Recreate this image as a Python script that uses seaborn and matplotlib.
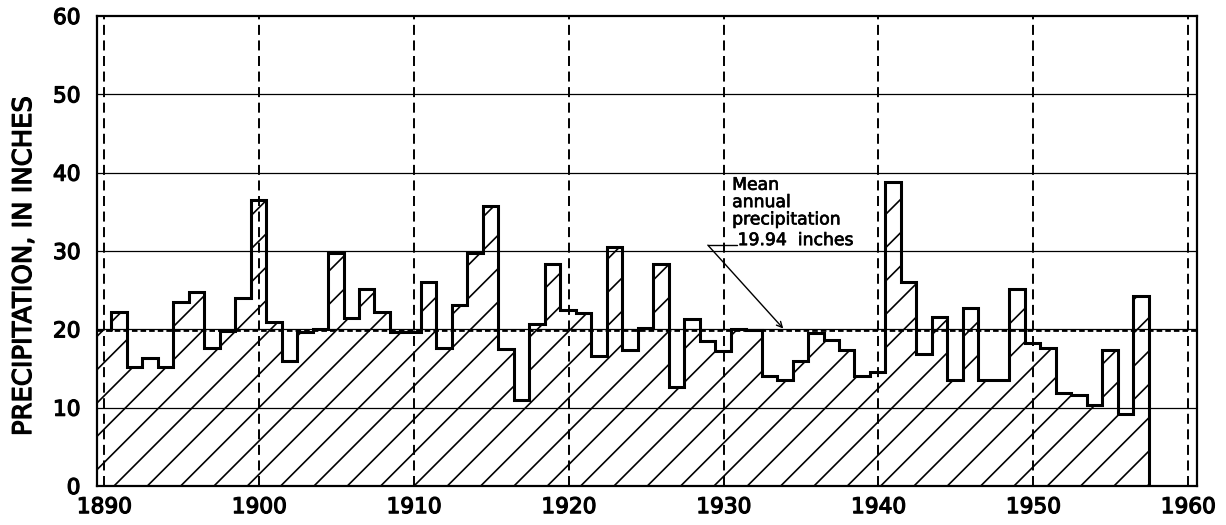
import numpy as np
import pandas as pd
import matplotlib
matplotlib.use("Agg")
import matplotlib.pyplot as plt
import matplotlib.patheffects as pe
import seaborn as sns

# ---- data ----
years = list(range(1891, 1958))
precip = [22.2, 15.2, 16.3, 15.2, 23.5, 24.8, 17.6, 19.8, 24.0, 36.5,
          21.0, 16.0, 19.7, 20.1, 29.7, 21.4, 25.1, 22.2, 19.7, 19.7,
          26.0, 17.6, 23.1, 29.8, 35.8, 17.5, 11.0, 20.7, 28.3, 22.5,
          22.1, 16.6, 30.5, 17.3, 20.2, 28.3, 12.6, 21.3, 18.5, 17.2,
          20.1, 19.9, 14.1, 13.5, 15.9, 19.5, 18.7, 17.3, 14.1, 14.5,
          38.8, 26.0, 16.9, 21.6, 13.5, 22.7, 13.5, 13.5, 25.2, 18.3,
          17.6, 11.9, 11.6, 10.3, 17.3, 9.2, 24.2]
mean_precip = 19.94
x_ticks = [1890, 1900, 1910, 1920, 1930, 1940, 1950, 1960]
y_ticks = [0, 10, 20, 30, 40, 50, 60]
y_label = "PRECIPITATION, IN INCHES"
note_text = "Mean\nannual\nprecipitation"
value_text = "19.94  inches"

# ---- style ----
sns.set_style("white")
plt.rcParams["font.family"] = ["DejaVu Sans"]
plt.rcParams["hatch.linewidth"] = 0.6
plt.rcParams["hatch.color"] = "black"
plt.rcParams["lines.scale_dashes"] = False
for k in ["text.color", "axes.labelcolor", "xtick.color", "ytick.color"]:
    plt.rcParams[k] = "black"

heavy = [pe.withStroke(linewidth=0.45, foreground="black")]
semi = [pe.withStroke(linewidth=0.25, foreground="black")]

fig = plt.figure(figsize=(6.13, 2.625), dpi=200)
ax = fig.add_axes([97/1226, 1-486/525, (1197-97)/1226, (486-16)/525])

XMIN, XMAX = 1889.53, 1960.57
ax.set_xlim(XMIN, XMAX)
ax.set_ylim(0, 60)

# horizontal grid
for yv in y_ticks[1:-1]:
    ax.axhline(yv, color="black", lw=0.45, zorder=1)

# vertical dashed decade lines
for xv in x_ticks:
    ax.axvline(xv, color="black", lw=0.7, dashes=(3.6, 2.0), zorder=1)

# step geometry
yrs = np.array(years, dtype=float)
vals = np.array(precip, dtype=float)
left = yrs - 0.55
right = left + 1.0
px = np.column_stack([left, right]).ravel()
py = np.repeat(vals, 2)

# hatched area under the curve
ax.fill_between(px, py, 0, hatch="//", facecolor="none", edgecolor="black",
                linewidth=0, zorder=2)
ax.fill_between([XMIN, left[0]], [mean_precip, mean_precip], 0, hatch="//",
                facecolor="none", edgecolor="black", linewidth=0, zorder=2)

# mean line
ax.axhline(mean_precip, color="black", lw=1.0, dashes=(2.0, 1.1), zorder=3)

# outline
ox = np.concatenate([[left[0]], px, [right[-1]]])
oy = np.concatenate([[mean_precip], py, [0.0]])
outline = pd.DataFrame({"x": ox, "y": oy})
sns.lineplot(data=outline, x="x", y="y", sort=False, estimator=None,
             color="black", lw=1.1, ax=ax, zorder=4,
             solid_joinstyle="miter")

# annotation
ax.text(1930.55, 39.6, note_text, ha="left", va="top", fontsize=6.2,
        linespacing=0.95, zorder=5, path_effects=semi)
ax.text(1930.9, 30.75, value_text, ha="left", va="baseline", fontsize=6.2,
        zorder=5, path_effects=semi)
ax.plot([1928.98, 1930.85], [30.75, 30.75], color="black", lw=0.5, zorder=5)
ax.annotate("", xy=(1933.85, 20.1), xytext=(1928.98, 30.75),
            arrowprops=dict(arrowstyle="->", lw=0.5, color="black",
                            shrinkA=0, shrinkB=0, mutation_scale=5),
            zorder=5)

# axes
ax.set_xticks(x_ticks)
ax.set_xticklabels([str(v) for v in x_ticks], fontsize=7.8)
ax.set_yticks(y_ticks)
ax.set_yticklabels([str(v) for v in y_ticks], fontsize=7.8)
for t in ax.get_xticklabels() + ax.get_yticklabels():
    t.set_path_effects(heavy)
ax.tick_params(axis="x", length=0, pad=4)
ax.tick_params(axis="y", length=0, pad=6)
ax.set_xlabel("")
ax.set_ylabel(y_label, fontsize=9.3, path_effects=heavy)
ax.yaxis.set_label_coords(-0.0545, 0.468)
for s in ax.spines.values():
    s.set_visible(True)
    s.set_color("black")
    s.set_linewidth(0.8)

fig.savefig("out.png", dpi=200)
